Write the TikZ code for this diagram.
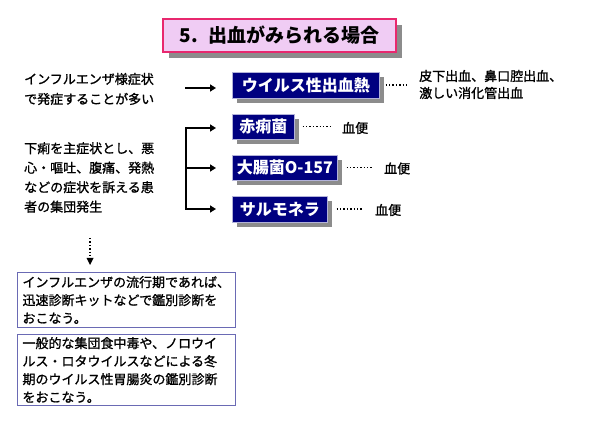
\documentclass[tikz,border=0pt]{standalone}
\usepackage{fontspec}
\setmainfont{Noto Sans CJK JP}
\newfontfamily\medjp{Noto Sans CJK JP}[FakeBold=1.2]
\usetikzlibrary{arrows.meta,shadows}
\definecolor{navyfill}{HTML}{000080}
\definecolor{titlefill}{HTML}{F0CCF4}
\definecolor{titleborder}{HTML}{E8286E}
\definecolor{noteborder}{HTML}{6A6AB4}
\definecolor{shadowgray}{HTML}{8C8C8C}
\tikzset{
  navybox/.style={draw=white!70!navyfill, line width=0.6pt, fill=navyfill, text=white,
    font=\fontsize{16}{18}\selectfont\bfseries, anchor=west, minimum height=26pt,
    inner sep=0pt, drop shadow={shadow xshift=5pt, shadow yshift=-5pt, fill=shadowgray, opacity=1}},
  plain/.style={font=\medjp\fontsize{13}{20}\selectfont, align=left, inner sep=0pt, anchor=west},
  notebox/.style={draw=noteborder, line width=1pt, anchor=north west, minimum width=218pt,
    inner sep=0pt, font=\medjp\fontsize{13}{18}\selectfont, align=left, text width=208pt},
  arr/.style={line width=1.6pt, -{Triangle[length=6pt,width=7pt]}},
  dotline/.style={line width=1.4pt, dash pattern=on 1.4pt off 2pt},
}
\begin{document}
\begin{tikzpicture}[x=1pt,y=-1pt]
\useasboundingbox (0,0) rectangle (600,430);
% title
\fill[shadowgray] (169,25) rectangle (402,58);
\node[draw=titleborder, line width=2pt, fill=titlefill, minimum width=233pt, minimum height=33pt,
  inner sep=0pt, font=\fontsize{19}{21}\selectfont\bfseries] (title) at (279.5,35.5) {5.\hspace{10pt}出血がみられる場合};
% left texts
\node[plain] (t1) at (24,89) {インフルエンザ様症状\\で発症することが多い};
\node[plain, font=\medjp\fontsize{13}{19.5}\selectfont] (t2) at (24,177.5) {下痢を主症状とし、悪\\心・嘔吐、腹痛、発熱\\などの症状を訴える患\\者の集団発生};
% navy boxes
\node[navybox, minimum width=147pt] (b1) at (232,85) {ウイルス性出血熱};
\node[navybox, minimum width=62pt, minimum height=25pt] (b2) at (232,126.5) {赤痢菌};
\node[navybox, minimum width=105pt, minimum height=25pt] (b3) at (232,167.5) {大腸菌O-157};
\node[navybox, minimum width=95pt] (b4) at (232,209) {サルモネラ};
% right texts
\node[plain, font=\medjp\fontsize{13}{17}\selectfont] (r1) at (419,84.5) {皮下出血、鼻口腔出血、\\激しい消化管出血};
\node[plain, font=\medjp\fontsize{13}{15}\selectfont] (r2) at (342,128) {血便};
\node[plain, font=\medjp\fontsize{13}{15}\selectfont] (r3) at (384,168.5) {血便};
\node[plain, font=\medjp\fontsize{13}{15}\selectfont] (r4) at (375,210) {血便};
% dotted leaders
\draw[dotline] ([xshift=6pt]b1.east) -- ([xshift=-10pt]r1.west |- b1.east);
\draw[dotline] ([xshift=8pt]b2.east) -- ([xshift=-12pt]r2.west |- b2.east);
\draw[dotline] ([xshift=9pt]b3.east) -- ([xshift=-12pt]r3.west |- b3.east);
\draw[dotline] ([xshift=9pt]b4.east) -- ([xshift=-12pt]r4.west |- b4.east);
% arrows
\coordinate (a1) at (185,88);
\draw[arr] (a1) -- ([xshift=-16pt]b1.west |- a1);
\coordinate (brtop) at (186,128);
\coordinate (brmid) at (186,168);
\coordinate (brbot) at (186,209);
\draw[line width=1.6pt] (brtop) -- (brbot);
\draw[arr] ([xshift=-0.8pt]brtop) -- ([xshift=-16pt]b2.west |- brtop);
\draw[arr] (brmid) -- ([xshift=-16pt]b3.west |- brmid);
\draw[arr] ([xshift=-0.8pt]brbot) -- ([xshift=-16pt]b4.west |- brbot);
% note boxes
\node[notebox, minimum height=55pt] (n1) at (17,272) {インフルエンザの流行期であれば、\\迅速診断キットなどで鑑別診断を\\おこなう。};
\node[notebox, minimum height=71pt] (n2) at (17,334) {一般的な集団食中毒や、ノロウイ\\ルス・ロタウイルスなどによる冬\\期のウイルス性胃腸炎の鑑別診断\\をおこなう。};
% dotted down arrow
\coordinate (d1) at (90,238);
\draw[line width=1.4pt, dash pattern=on 1.4pt off 2pt] (d1) -- (90,258);
\fill ([yshift=7pt]n1.north -| d1) -- ++(-3.5,-7) -- ++(7,0) -- cycle;
\end{tikzpicture}
\end{document}
